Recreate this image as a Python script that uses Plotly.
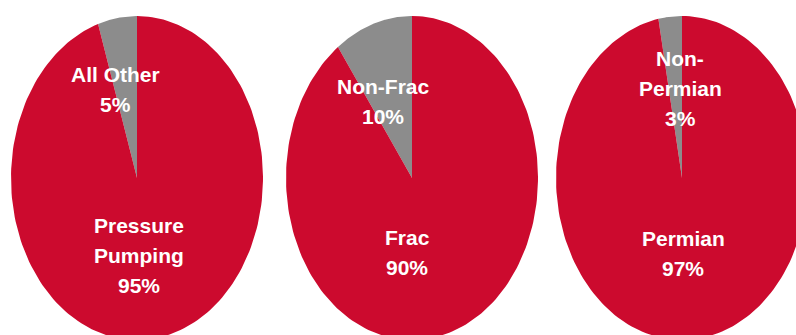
import numpy as np
import plotly.graph_objects as go

# ---- data ----
pie1_labels = ["All Other", "Pressure Pumping"]
pie1_values = [5, 95]
pie2_labels = ["Non-Frac", "Frac"]
pie2_values = [10, 90]
pie3_labels = ["Non-Permian", "Permian"]
pie3_values = [3, 97]

# display text lines for each slice (line breaks as in picture)
pie1_text = [["All Other"], ["Pressure", "Pumping"]]
pie2_text = [["Non-Frac"], ["Frac"]]
pie3_text = [["Non-", "Permian"], ["Permian"]]

slice_colors = ["#8C8C8C", "#CC0A2E"]

# ---- layout geometry (pixels) ----
W, H = 796, 335
centers_x = [137, 412, 682]
center_y = 178
rx, ry = 126, 162
line_gap = 30
label_pos = [
    [(115, 89), (139, 255)],
    [(383, 101), (407, 252)],
    [(680, 88), (683, 253)],
]

pies = [
    (pie1_labels, pie1_values, pie1_text),
    (pie2_labels, pie2_values, pie2_text),
    (pie3_labels, pie3_values, pie3_text),
]

fig = go.Figure()
annotations = []
font_family = "Liberation Sans, Arial, sans-serif"

for i, (labels, values, texts) in enumerate(pies):
    cx = centers_x[i]
    total = float(sum(values))
    start = 0.0
    for j, (lab, val, txt) in enumerate(zip(labels, values, texts)):
        frac = val / total
        t = np.linspace(start, start + frac * 2 * np.pi, 200)
        xs = np.concatenate([[cx], cx - rx * np.sin(t), [cx]])
        ys = np.concatenate([[center_y], center_y - ry * np.cos(t), [center_y]])
        fig.add_trace(go.Scatter(
            x=xs, y=ys, mode="lines", fill="toself",
            fillcolor=slice_colors[j], line=dict(width=0, color=slice_colors[j]),
            name=lab, hoverinfo="name", showlegend=False,
        ))
        start += frac * 2 * np.pi
        lx, ly = label_pos[i][j]
        lines = list(txt) + [f"{val}%"]
        n = len(lines)
        for k, line in enumerate(lines):
            annotations.append(dict(
                x=lx, y=ly + (k - (n - 1) / 2) * line_gap,
                xref="x", yref="y", showarrow=False,
                text=f"<b>{line}</b>", align="center",
                xanchor="center", yanchor="middle",
                font=dict(family=font_family, size=21, color="white"),
            ))

fig.update_layout(
    width=W, height=H,
    margin=dict(l=0, r=0, t=0, b=0),
    paper_bgcolor="white", plot_bgcolor="white",
    xaxis=dict(range=[0, W], visible=False, fixedrange=True),
    yaxis=dict(range=[H, 0], visible=False, fixedrange=True),
    annotations=annotations,
    showlegend=False,
)

fig.write_html("out.html")
